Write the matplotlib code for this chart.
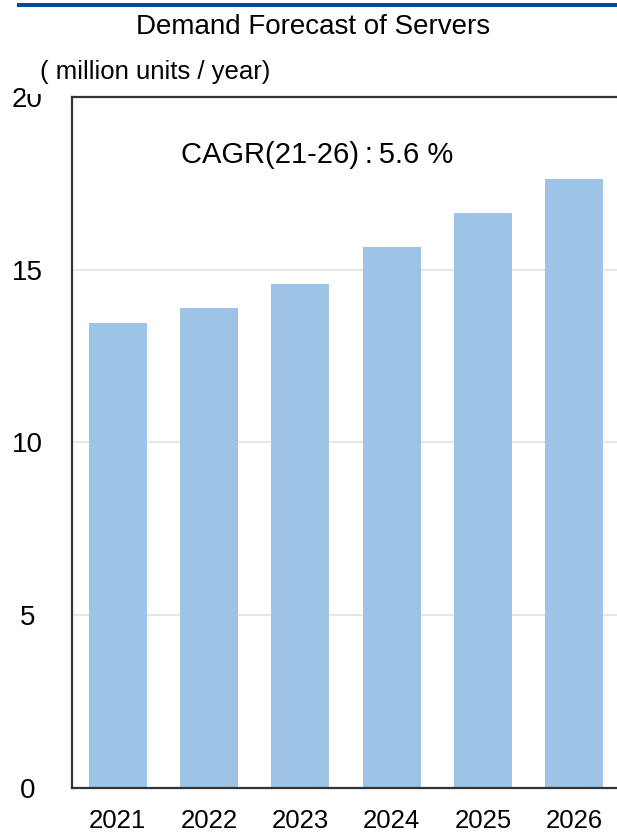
import matplotlib.pyplot as plt
from matplotlib.patches import Rectangle

years = ["2021", "2022", "2023", "2024", "2025", "2026"]
demand = [13.45, 13.9, 14.6, 15.67, 16.65, 17.64]  # million units / year
yticks = [0, 5, 10, 15, 20]

plt.rcParams["font.family"] = ["Liberation Sans", "DejaVu Sans"]

fig = plt.figure(figsize=(6.17, 8.32), dpi=100)
W, H = 617, 832

# axes box in pixels: left 72, right 620, top 97, bottom 788
ax = fig.add_axes([72 / W, 1 - 788 / H, 548 / W, (788 - 97) / H])
ax.bar(range(len(years)), demand, width=0.635, color="#9dc3e6", zorder=2)
ax.set_xlim(-0.5, len(years) - 0.5)
ax.set_ylim(0, 20)
ax.set_yticks(yticks)
ax.set_yticklabels([str(t) for t in yticks], fontsize=20, ha="center")
ax.set_xticks(range(len(years)))
ax.set_xticklabels(years, fontsize=18.5)
ax.tick_params(axis="y", length=0, pad=32)
ax.tick_params(axis="x", length=0, pad=15)
ax.grid(axis="y", color="#e3e3e3", linewidth=1.2, zorder=0)
for s in ["left", "bottom", "top"]:
    ax.spines[s].set_color("#333333")
    ax.spines[s].set_linewidth(1.6)
ax.spines["right"].set_visible(False)

ax.text(2.18, 18.33, "CAGR(21-26)\u2009:\u20095.6 %", fontsize=21, ha="center", va="center")

# header rule, title and unit
fig.add_artist(Rectangle((17 / W, 1 - 7 / H), 1, 4 / H, transform=fig.transFigure,
                         color="#0b4a9a", lw=0))
fig.text(313 / W, 1 - 27 / H, "Demand Forecast of Servers", fontsize=20, ha="center", va="center")
fig.text(40 / W, 1 - 72 / H, "( million units / year)", fontsize=18.5, ha="left", va="center")
# the unit caption box hides the top of the "20" label
fig.add_artist(Rectangle((25 / W, 1 - 94 / H), 20 / W, 10 / H, transform=fig.transFigure,
                         color="white", lw=0, zorder=5))

fig.savefig("out.png", dpi=100)
